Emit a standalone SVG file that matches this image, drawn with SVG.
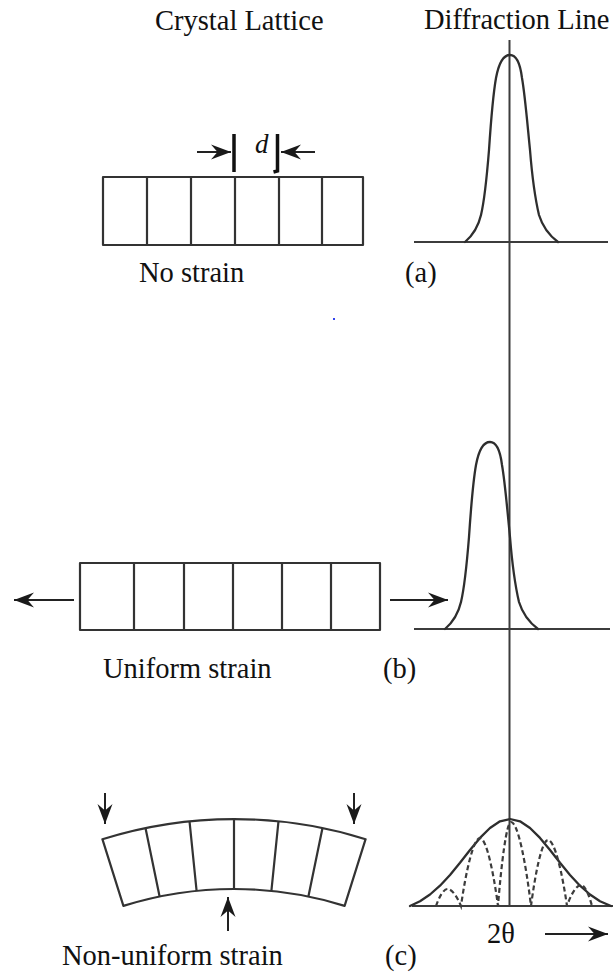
<svg xmlns="http://www.w3.org/2000/svg" width="614" height="974" viewBox="0 0 614 974">
<style>
text{font-family:"Liberation Serif","Times New Roman",serif;font-size:28.5px;fill:#111}
.ln{fill:none;stroke:#333;stroke-width:2.2;stroke-linejoin:round}
.cv{fill:none;stroke:#2e2e2e;stroke-width:2.3;stroke-linejoin:round;stroke-linecap:round}
.ax{fill:none;stroke:#3c3c3c;stroke-width:2}
.dash{fill:none;stroke:#3c3c3c;stroke-width:2.2;stroke-dasharray:5 3}
.arr{fill:none;stroke:#222;stroke-width:2;marker-end:url(#ah)}
</style>
<defs>
<marker id="ah" markerUnits="userSpaceOnUse" markerWidth="24" markerHeight="20" viewBox="-22 -10 24 20" refX="0" refY="0" orient="auto">
<path d="M0,0 L-20,-7.5 L-13.5,0 L-20,7.5 Z" fill="#1a1a1a"/>
</marker>
<path id="pk" d="M465,242 C472,236 478,228 481,215 C485,198 487,175 489,150 C491,120 493,95 496,78 C499,62 504,55 510,55 C516,55 520,62 522,78 C525,95 527,120 530,150 C532,175 535,198 539,215 C543,228 550,236 558,242"/>
</defs>
<rect width="614" height="974" fill="#fff"/>

<g id="titles">
<text x="155" y="30">Crystal Lattice</text>
<text x="424" y="29">Diffraction Line</text>
</g>

<g id="axis">
<line class="ax" x1="509.5" y1="40" x2="509.5" y2="906"/>
</g>

<g id="lattice-a">
<rect class="ln" x="103" y="177" width="260" height="68"/>
<path class="ln" d="M147,177V245M191,177V245M235,177V245M279,177V245M322,177V245"/>
<path fill="none" stroke="#111" stroke-width="3.5" d="M234,134V172"/>
<path fill="none" stroke="#111" stroke-width="3.5" d="M277.5,134V171L273.5,172"/>
<text x="255" y="153" font-style="italic" style="font-size:27px">d</text>
<text x="139" y="282">No strain</text>
</g>

<g id="peak-a">
<line class="ax" x1="414" y1="242" x2="608" y2="242"/>
<use href="#pk" class="cv"/>
<text x="405" y="282">(a)</text>
</g>

<g id="lattice-b">
<rect class="ln" x="80" y="563" width="300" height="67"/>
<path class="ln" d="M134,563V630M184,563V630M233,563V630M282,563V630M331,563V630"/>
<text x="103" y="678">Uniform strain</text>
</g>

<g id="peak-b">
<line class="ax" x1="414" y1="629" x2="610" y2="629"/>
<use href="#pk" class="cv" transform="translate(-20,387)"/>
<text x="383" y="678">(b)</text>
</g>

<g id="lattice-c">
<path class="ln" d="M102.4,839.2 A440,440 0 0 1 365.6,839.2 L344.6,905.9 A370,370 0 0 0 123.4,905.9 Z"/>
<path class="ln" d="M145.5,828L159.6,896.5M189.5,821.2L196.6,890.9M234,819V889M278.5,821.2L271.4,890.9M322.5,828L308.4,896.5"/>
<text x="62" y="965">Non-uniform strain</text>
</g>

<g id="peak-c">
<line class="ax" x1="412" y1="906" x2="613" y2="906"/>
<path class="cv" d="M410,906 L420,901.2 L430,894.5 L440,885.7 L450,875 L460,862.8 L470,850 L480,837.9 L490,828 L500,821.3 L510,819 L520,821.3 L530,828 L540,837.9 L550,850 L560,862.8 L570,875 L580,885.7 L590,894.5 L600,901.2 L611,906"/>
<path class="dash" d="M436,906 C438.9,897.5 443.5,889 447.5,889 C452.2,889 457.6,897.5 461,906 C465.8,872 473.4,838 480,838 C486.3,838 493.5,872 498,906 C501.3,864 506.5,822 511,822 C518,822 526,864 531,906 C535.3,873 542,840 548,840 C554.7,840 562.3,873 567,906 C570.5,895.5 576.1,885 581,885 C584.9,885 589.3,895.5 592,906"/>
<text x="487" y="943">2θ</text>
<text x="385" y="965">(c)</text>
</g>

<g id="connectors">
<path class="arr" d="M197,152H231"/>
<path class="arr" d="M315,152H281"/>
<path class="arr" d="M74,600H14"/>
<path class="arr" d="M390,600H448"/>
<path class="arr" d="M105,793V824"/>
<path class="arr" d="M354,793V824"/>
<path class="arr" d="M228,931V897"/>
<path class="arr" d="M545,934H608"/>
</g>

<rect x="333" y="318" width="2" height="2" fill="#3344ee"/>
</svg>
